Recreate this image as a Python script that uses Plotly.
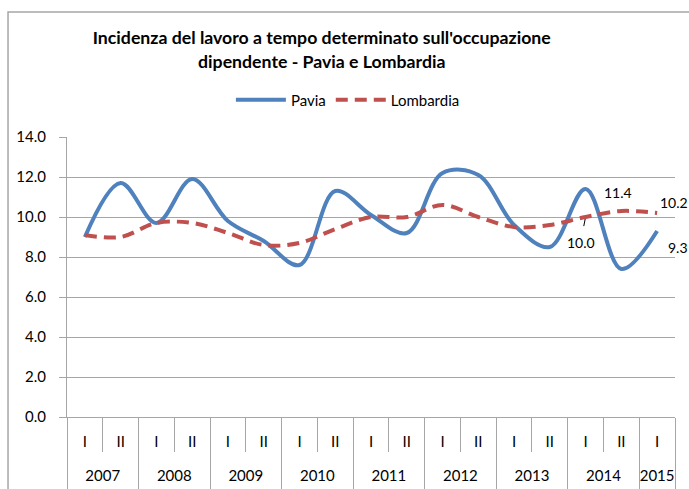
import plotly.graph_objects as go

# semesters 2007-I ... 2015-I
years = ["2007", "2007", "2008", "2008", "2009", "2009", "2010", "2010", "2011", "2011",
         "2012", "2012", "2013", "2013", "2014", "2014", "2015"]
semesters = ["I", "II", "I", "II", "I", "II", "I", "II", "I", "II",
             "I", "II", "I", "II", "I", "II", "I"]

pavia = [9.0, 11.7, 9.7, 11.9, 9.8, 8.8, 7.6, 11.3, 10.1, 9.2,
         12.2, 12.1, 9.6, 8.5, 11.4, 7.4, 9.3]
lombardia = [9.1, 9.0, 9.7, 9.7, 9.2, 8.6, 8.7, 9.4, 10.0, 10.0,
             10.6, 10.0, 9.5, 9.6, 10.0, 10.3, 10.2]

idx = list(range(len(semesters)))
font = "Lato, 'Open Sans', sans-serif"
grey = "#A6A6A6"

# year groups: center position and boundaries
year_names = []
year_pos = []
year_bounds = [-0.5]
for i, yr in enumerate(years):
    if i == len(years) - 1 or years[i + 1] != yr:
        first = years.index(yr)
        year_names.append(yr)
        year_pos.append((first + i) / 2)
        year_bounds.append(i + 0.5)

fig = go.Figure()
fig.add_trace(go.Scatter(x=idx, y=pavia, name="Pavia", mode="lines",
                         line=dict(color="#4F81BD", width=4, shape="spline", smoothing=1.0)))
fig.add_trace(go.Scatter(x=idx, y=lombardia, name="Lombardia", mode="lines", xaxis="x2",
                         line=dict(color="#C0504D", width=4, shape="spline", smoothing=1.0,
                                   dash="12px,7px")))

# data labels
lab = dict(size=14, color="black", family=font)
fig.add_annotation(x=14, y=pavia[14], text="%.1f" % pavia[14], showarrow=False,
                   xanchor="left", xshift=16, yshift=-3, font=lab)
fig.add_annotation(x=16, y=pavia[16], text="%.1f" % pavia[16], showarrow=False,
                   xanchor="left", xshift=9, yshift=-16, font=lab)
fig.add_annotation(x=16, y=lombardia[16], text="%.1f" % lombardia[16], showarrow=False,
                   xanchor="left", xshift=1, yshift=11, font=lab)
fig.add_annotation(x=14, y=lombardia[14], text="%.1f" % lombardia[14], showarrow=True,
                   arrowhead=0, arrowwidth=1, arrowcolor="black", standoff=2, startstandoff=6,
                   ax=-5, ay=25, font=lab)

# outer chart border
fig.add_shape(type="rect", xref="paper", yref="paper", x0=-0.097, x1=1.2, y0=-0.4, y1=1.446,
              line=dict(color=grey, width=1.5), fillcolor="rgba(0,0,0,0)")

tickfont = dict(family=font, size=15, color="black")

fig.update_layout(
    width=689, height=489,
    margin=dict(l=67, r=14, t=137, b=72, autoexpand=False),
    paper_bgcolor="white", plot_bgcolor="white",
    font=dict(family=font, size=15, color="black"),
    title=dict(text="<b>Incidenza del lavoro a tempo determinato sull'occupazione<br>dipendente - Pavia e Lombardia</b>",
               x=0.467, xanchor="center", y=0.909, yanchor="top",
               font=dict(size=17.7, family=font, color="black")),
    legend=dict(orientation="h", x=0.462, xanchor="center", y=1.132, yanchor="middle",
                font=dict(size=15, color="black"), itemwidth=50),
    showlegend=True,
)
fig.update_yaxes(range=[0, 14], dtick=2, tickformat=".1f", showgrid=True,
                 gridcolor=grey, gridwidth=1, showline=True, linecolor=grey,
                 ticks="outside", ticklen=7, tickcolor=grey, zeroline=False,
                 ticklabelstandoff=10, automargin=False, tickfont=tickfont)
fig.update_layout(
    xaxis=dict(range=[-0.5, 16.5], tickvals=idx, ticktext=semesters, ticks="",
               showline=True, linecolor=grey, showgrid=False, zeroline=False,
               ticklabelstandoff=11, automargin=False, tickfont=tickfont,
               minor=dict(tickvals=[i + 0.5 for i in [-1] + idx], ticks="outside",
                          ticklen=34, tickcolor=grey, showgrid=False)),
    xaxis2=dict(range=[-0.5, 16.5], overlaying="x", side="bottom", anchor="y",
                tickvals=year_pos, ticktext=year_names, ticks="",
                showline=False, showgrid=False, zeroline=False,
                ticklabelstandoff=48, automargin=False, tickfont=tickfont,
                minor=dict(tickvals=year_bounds, ticks="outside", ticklen=75,
                           tickcolor=grey, showgrid=False)),
)

# page without default body margin, so the 689x489 figure fills the window
fig.write_html("out.html", config={"displayModeBar": False},
               post_script="document.body.style.margin='0';document.body.style.overflow='hidden';")
